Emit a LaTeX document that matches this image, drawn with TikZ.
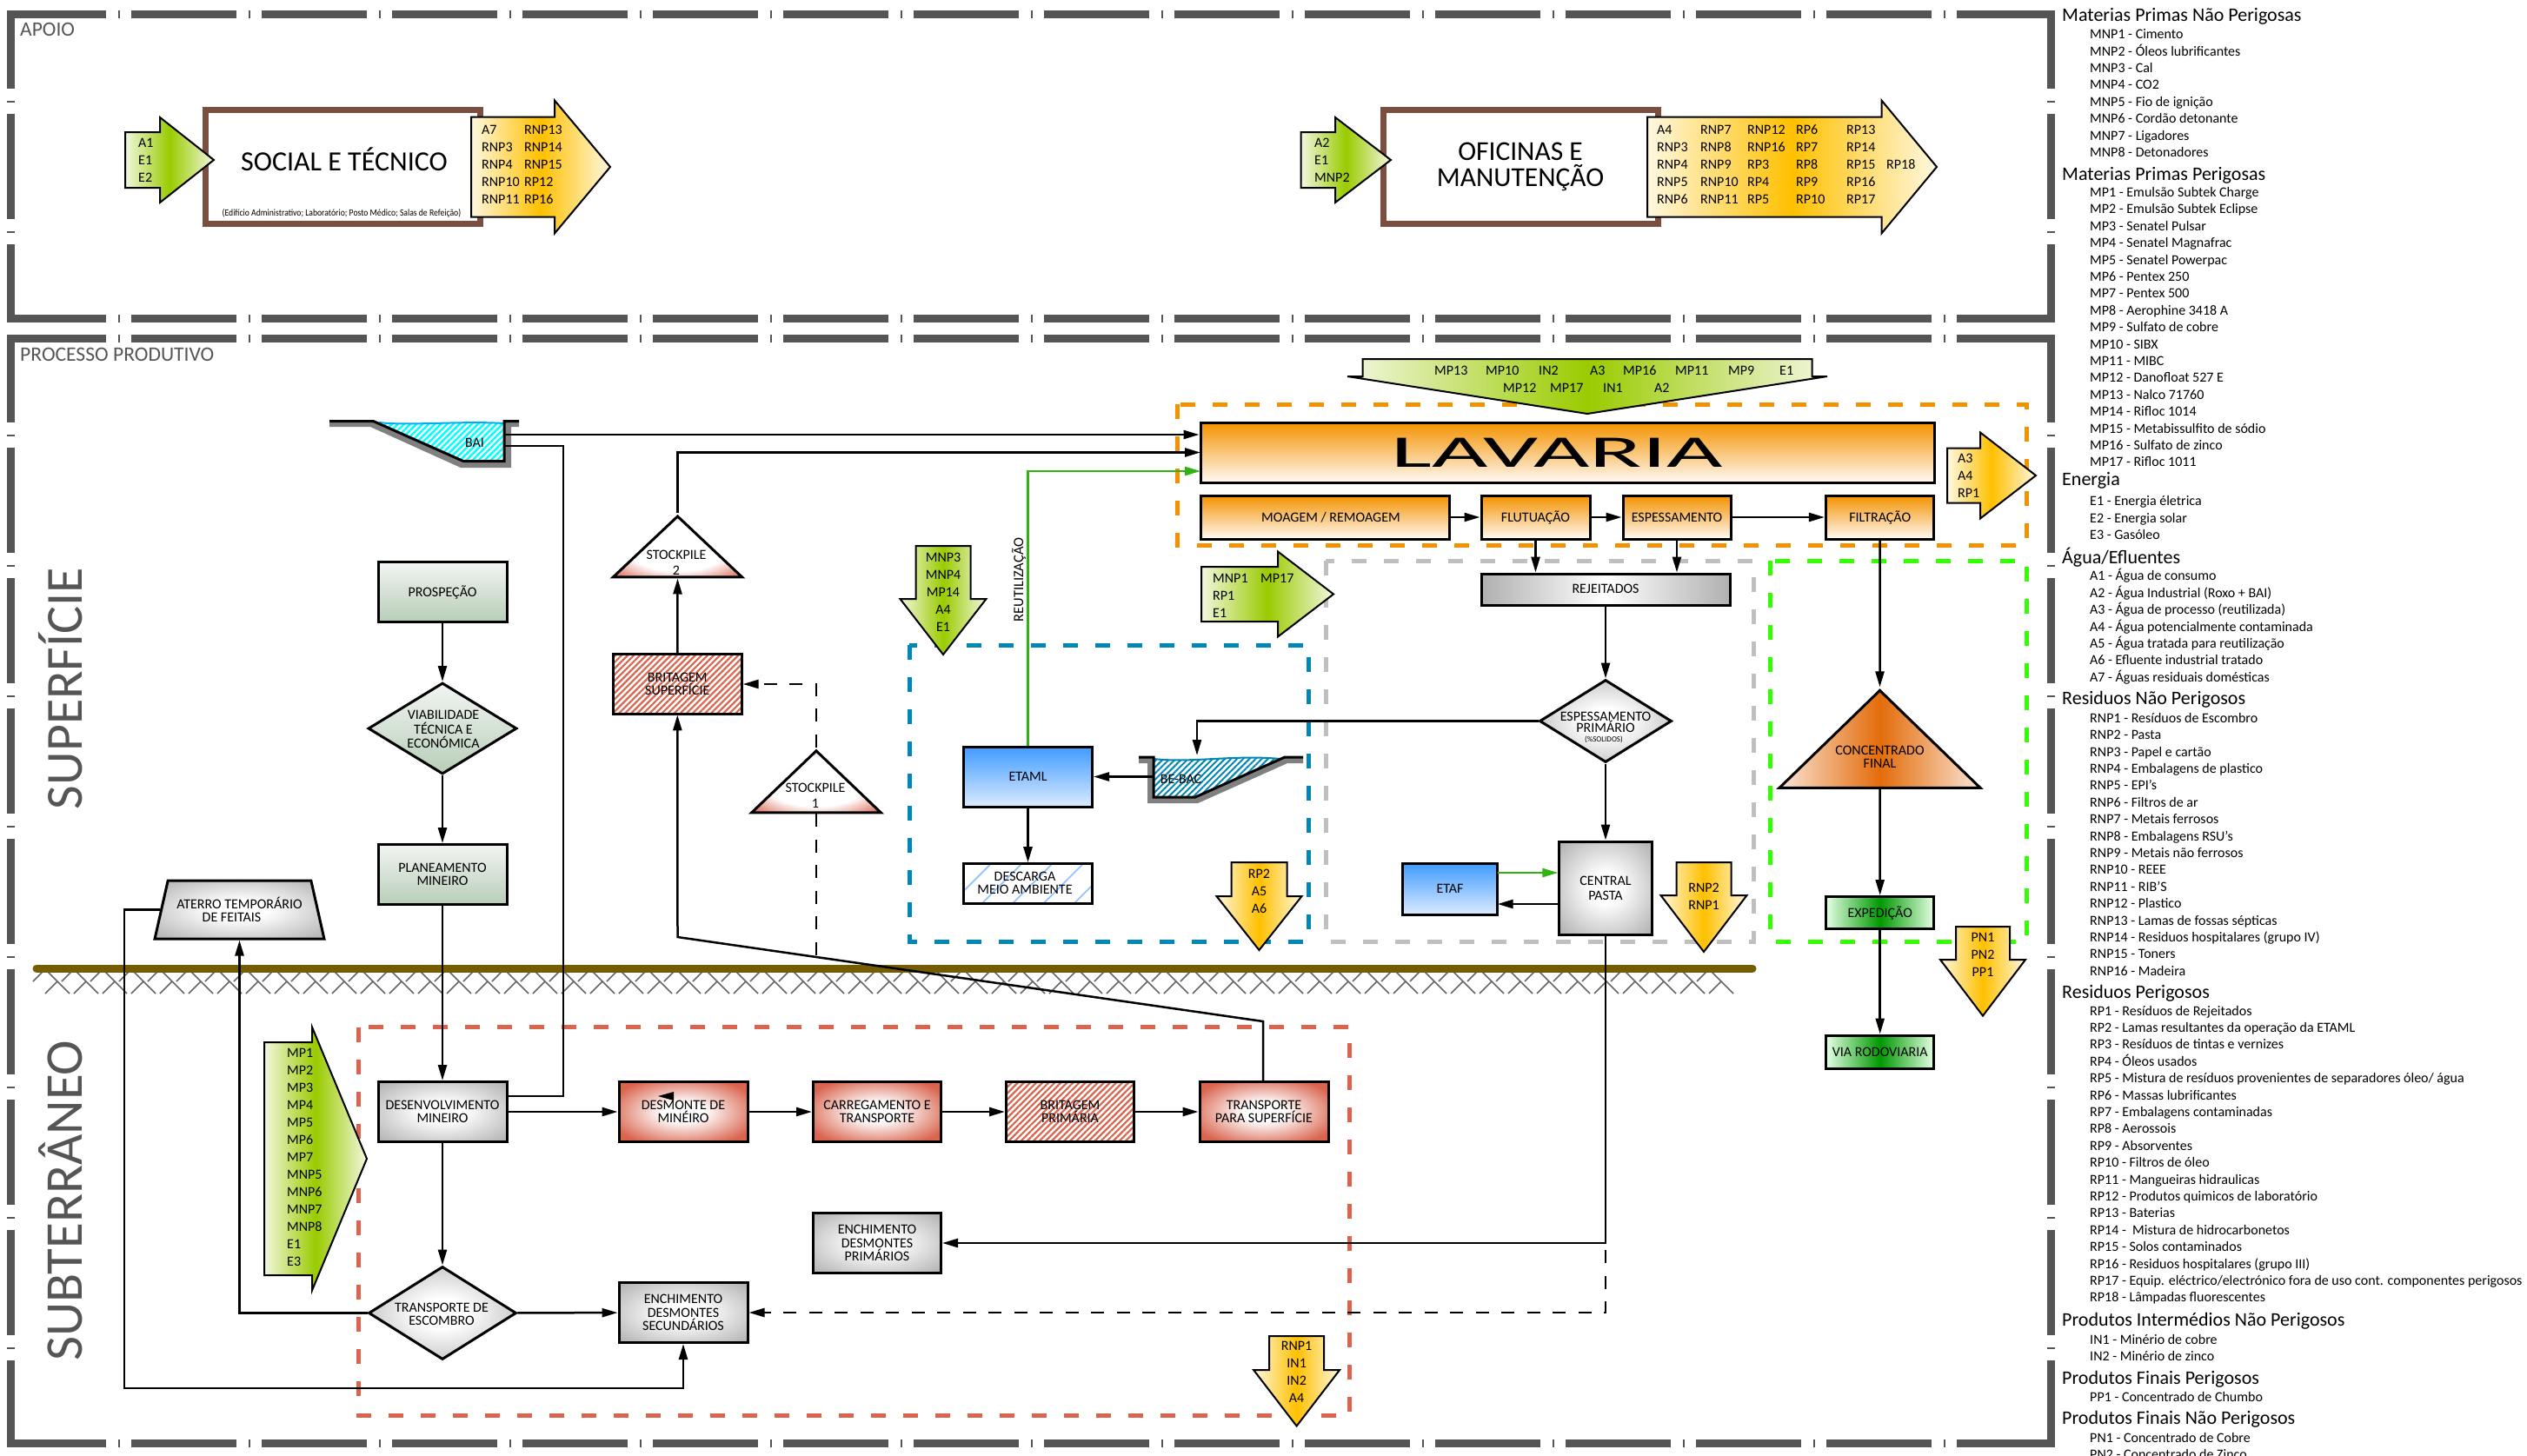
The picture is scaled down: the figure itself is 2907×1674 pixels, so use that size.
\documentclass[tikz,border=0pt]{standalone}
\usepackage{fontspec}
\usepackage{graphicx}
\setmainfont{Carlito}
\usetikzlibrary{arrows.meta,shapes.geometric,patterns.meta}

\definecolor{framegray}{HTML}{555555}
\definecolor{brownbox}{HTML}{7B4F3F}
\definecolor{gmid}{HTML}{9ACB00}
\definecolor{gfade}{HTML}{F2F7DF}
\definecolor{omid}{HTML}{FFC000}
\definecolor{ofade}{HTML}{FFF8E0}
\definecolor{lavorange}{HTML}{F39200}
\definecolor{zoneblue}{HTML}{0087B5}
\definecolor{zonegray}{HTML}{BFBFBF}
\definecolor{zonegreen}{HTML}{33FF00}
\definecolor{zonered}{HTML}{D9654F}
\definecolor{reuse}{HTML}{2FB310}
\definecolor{groundbrown}{HTML}{755C00}
\definecolor{shadegray}{HTML}{B0B0B0}
\definecolor{bluetop}{HTML}{3F9BFF}
\definecolor{bluebot}{HTML}{DCEBFF}
\definecolor{concmid}{HTML}{E36C0A}
\definecolor{concfade}{HTML}{FBE5D6}

\pgfdeclareradialshading{softgray}{\pgfpointorigin}{color(0bp)=(white); color(8bp)=(white); color(35bp)=(shadegray); color(50bp)=(shadegray)}
\pgfdeclareradialshading{softred}{\pgfpointorigin}{color(0bp)=(white); color(8bp)=(white); color(30bp)=(zonered); color(50bp)=(zonered)}
\pgfdeclareradialshading{peakred}{\pgfpointorigin}{color(0bp)=(white); color(20bp)=(white); color(35bp)=(zonered); color(50bp)=(zonered)}

\tikzset{
  framedash/.style={line width=9pt,draw=framegray,dash pattern=on 121pt off 14pt on 2pt off 13pt},
  zone/.style={line width=5pt,dash pattern=on 17pt off 20pt},
  garrow/.style={draw=black,line width=2pt,left color=gfade,right color=gfade,middle color=gmid},
  oarrow/.style={draw=black,line width=2pt,left color=ofade,right color=ofade,middle color=omid},
  alabel/.style={inner sep=0pt,align=left,anchor=west,font=\fontsize{16}{20}\selectfont},
  clabel/.style={inner sep=0pt,align=center,font=\fontsize{16}{20}\selectfont},
  blabel/.style={inner sep=0pt,align=center,font=\fontsize{16}{15}\selectfont},
  legendhead/.style={inner sep=0pt,anchor=west,yshift=-1.5pt,font=\fontsize{22}{22}\selectfont},
  legendbody/.style={inner sep=0pt,anchor=west,align=left,yshift=-0.7pt,font=\fontsize{16}{19.4}\selectfont},
  box/.style={draw=black,line width=3pt,inner sep=0pt,align=center,font=\fontsize{16}{15.5}\selectfont},
  bigbox/.style={draw=brownbox,line width=7pt,fill=white,inner sep=0pt,align=center,font=\fontsize{31.5}{30}\selectfont},
  lavbox/.style={box,top color=lavorange,bottom color=orange!4},
  planbox/.style={box,top color=green!20!black!5,bottom color=green!30!black!28},
  graybox/.style={box,shade,shading=softgray},
  redbox/.style={box,shade,shading=softred},
  hatchred/.style={box,preaction={fill=white},pattern={Lines[angle=45,distance=5pt,line width=2.2pt]},pattern color=zonered},
  bluebox/.style={box,top color=bluetop,bottom color=bluebot},
  peak/.style={draw=black,line width=3pt,inner sep=0pt,isosceles triangle,isosceles triangle stretches,shape border rotate=90},
  choice/.style={draw=black,line width=3pt,inner sep=0pt,diamond},
  line/.style={draw=black,line width=2.5pt},
  flow/.style={line,-{Triangle[length=18pt,width=10pt]}},
  dashflow/.style={flow,dash pattern=on 15pt off 14.5pt},
  reuseflow/.style={line width=2.5pt,draw=reuse,-{Triangle[length=18pt,width=10pt,fill=reuse]}},
  earth/.style={draw=black!60,line width=1.5pt},
  soil/.style={fill=black!50,draw=none},
  pond/.style={line width=3pt,draw=black}
}

% block arrows: style, start, neck, tip, middle, half shaft, half head
\newcommand{\arrowright}[7]{\draw[#1] (#2,-#5+#6) -- (#3,-#5+#6) -- (#3,-#5+#7) -- (#4,-#5) -- (#3,-#5-#7) -- (#3,-#5-#6) -- (#2,-#5-#6) -- cycle;}
\newcommand{\arrowdown}[7]{\draw[#1] (#2-#3,-#5) -- (#2+#3,-#5) -- (#2+#3,-#6) -- (#2+#4,-#6) -- (#2,-#7) -- (#2-#4,-#6) -- (#2-#3,-#6) -- cycle;}

\begin{document}
\begin{tikzpicture}[x=1pt,y=1pt]
	\useasboundingbox (0,0) rectangle (2907,-1674);
	% outer frames
	\draw[framedash,dash phase=11pt] (12,-16.5) -- (2363,-16.5);
	\draw[framedash,dash phase=11pt] (12,-366.5) -- (2363,-366.5);
	\draw[framedash,dash phase=31pt] (12.5,-12) -- (12.5,-371);
	\draw[framedash,dash phase=31pt] (2359,-12) -- (2359,-371);
	\draw[framedash,dash phase=11pt] (12,-389.5) -- (2363,-389.5);
	\draw[framedash,dash phase=11pt] (12,-1660.5) -- (2363,-1660.5);
	\draw[framedash,dash phase=20pt] (12.5,-385) -- (12.5,-1665);
	\draw[framedash,dash phase=20pt] (2359,-385) -- (2359,-1665);
	\node[inner sep=0pt,anchor=west,text=framegray,font=\fontsize{23.5}{24}\selectfont] (apoio) at (23,-34) {APOIO};
	\node[inner sep=0pt,anchor=west,text=framegray,font=\fontsize{23.6}{24}\selectfont] (processo) at (23,-408) {PROCESSO PRODUTIVO};
	\node[inner sep=0pt,rotate=90,text=framegray,font=\fontsize{60}{60}\selectfont] (superficie) at (70,-792) {SUPERFÍCIE};
	\node[inner sep=0pt,rotate=90,text=framegray,font=\fontsize{61}{61}\selectfont] (subterraneo) at (70,-1381) {SUBTERRÂNEO};

	% dashed zones
	\draw[zone,draw=lavorange] (1354,-465) rectangle (2331,-627);
	\draw[zone,draw=zoneblue] (1046,-742) rectangle (1505,-1083);
	\draw[zone,draw=zonegray] (1525,-645) rectangle (2017,-1083);
	\draw[zone,draw=zonegreen] (2036.5,-645) rectangle (2331,-1083);
	\draw[zone,draw=zonered] (412,-1181.5) rectangle (1552.5,-1628);

	% ground
	\foreach \x in {52,85,...,1987} {
		\draw[earth] (\x,-1115) -- ++(28,-28);
		\draw[earth] (\x,-1115) -- ++(-14,-14);
		\draw[earth] (\x+14,-1129) -- ++(-14,-14);
	}
	\draw[line width=9pt,draw=groundbrown,line cap=round] (42,-1114) -- (2016,-1114);

	% apoio
	\node[bigbox,minimum width=316,minimum height=131] (social) at (394.5,-191.5) {};
	\node[inner sep=0pt,font=\fontsize{32}{30}\selectfont] (socialt) at (396,-183.5) {SOCIAL E TÉCNICO};
	\node[inner sep=0pt,font=\fontsize{11}{11}\selectfont] (socialsub) at (393,-245) {\scalebox{.88}[1]{(Edifício Administrativo; Laboratório; Posto Médico; Salas de Refeição)}};
	\node[bigbox,minimum width=316,minimum height=131] (oficinas) at (1749,-191.5) {OFICINAS E\\MANUTENÇÃO};
	\arrowright{garrow}{144}{184}{246}{184}{32}{49}
	\node[alabel] (a1t) at (159,-184) {A1\\E1\\E2};
	\arrowright{oarrow}{542}{638}{702}{192}{57.5}{76.5}
	\node[alabel] (a7a) at (554,-189) {A7\\RNP3\\RNP4\\RNP10\\RNP11};
	\node[alabel] (a7b) at (603,-189) {RNP13\\RNP14\\RNP15\\RP12\\RP16};
	\arrowright{garrow}{1496.5}{1536}{1600}{184}{32}{49}
	\node[alabel] (a2t) at (1512,-184) {A2\\E1\\MNP2};
	\arrowright{oarrow}{1895}{2164.5}{2228}{192}{57.5}{76.5}
	\node[alabel] (ofa) at (1906,-189) {A4\\RNP3\\RNP4\\RNP5\\RNP6};
	\node[alabel] (ofb) at (1956,-189) {RNP7\\RNP8\\RNP9\\RNP10\\RNP11};
	\node[alabel] (ofc) at (2010,-189) {RNP12\\RNP16\\RP3\\RP4\\RP5};
	\node[alabel] (ofd) at (2066,-189) {RP6\\RP7\\RP8\\RP9\\RP10};
	\node[alabel] (ofe) at (2124,-189) {RP13\\RP14\\RP15\\RP16\\RP17};
	\node[alabel] (off) at (2170,-189) {RP18};

	% lavaria
	\arrowdown{garrow}{1826}{258.5}{276}{413}{433}{476}
	\node[alabel] (tm1) at (1650,-426) {MP13};
	\node[alabel] (tm2) at (1709,-426) {MP10};
	\node[alabel] (tm3) at (1770,-426) {IN2};
	\node[alabel] (tm4) at (1829,-426) {A3};
	\node[alabel] (tm5) at (1867,-426) {MP16};
	\node[alabel] (tm6) at (1927,-426) {MP11};
	\node[alabel] (tm7) at (1988,-426) {MP9};
	\node[alabel] (tm8) at (2047,-426) {E1};
	\node[alabel] (tm9) at (1729,-446) {MP12};
	\node[alabel] (tm10) at (1783,-446) {MP17};
	\node[alabel] (tm11) at (1844,-446) {IN1};
	\node[alabel] (tm12) at (1903,-446) {A2};
	\node[lavbox,minimum width=844,minimum height=69] (lavaria) at (1803,-520.5) {\hspace*{-24pt}\fontsize{52}{52}\selectfont\scalebox{2.14}[1]{LAVARIA}};
	\node[lavbox,minimum width=286,minimum height=50] (moagem) at (1524,-595) {\hspace*{14pt}MOAGEM / REMOAGEM};
	\node[lavbox,minimum width=125,minimum height=50] (flut) at (1766.5,-595) {FLUTUAÇÃO};
	\node[lavbox,minimum width=124,minimum height=50] (espess) at (1929,-595) {ESPESSAMENTO};
	\node[lavbox,minimum width=124.5,minimum height=50] (filt) at (2162.7,-595) {FILTRAÇÃO};
	\arrowright{oarrow}{2240}{2278}{2342}{547}{31.5}{49.5}
	\node[alabel] (a3t) at (2252,-547) {A3\\A4\\RP1};

	% etaml
	\arrowdown{garrow}{1085}{31.5}{49.5}{628}{689}{753}
	\node[clabel] (mnp3t) at (1085,-681) {MNP3\\MNP4\\MP14\\A4\\E1};
	\arrowright{garrow}{1382}{1470}{1534}{683.5}{31.5}{49}
	\node[alabel] (mnp1a) at (1395,-685) {MNP1\\RP1\\E1};
	\node[alabel] (mnp1b) at (1450,-665) {MP17};
	\arrowdown{oarrow}{1448.5}{32}{49}{992}{1031}{1093}
	\node[clabel] (rp2t) at (1448.5,-1025) {RP2\\A5\\A6};
	\node[bluebox,minimum width=148,minimum height=69] (etaml) at (1182.5,-893.5) {ETAML};
	\node[box,preaction={fill=white},pattern={Lines[angle=45,distance=25pt,line width=1.6pt]},pattern color=cyan!45!blue!45,minimum width=148,minimum height=46] (descarga) at (1182.5,-1016) {};
	\node[blabel] (descargat) at (1179,-1016) {DESCARGA\\MEIO AMBIENTE};
	\fill[soil] (1310,-871) -- (1327,-871) -- (1327,-917) -- (1375,-917) -- (1478,-871) -- (1499,-871) -- (1499,-878) -- (1481,-878) -- (1378,-924) -- (1320,-924) -- (1320,-878) -- (1310,-878) -- cycle;
	\fill[pattern={Lines[angle=45,distance=5pt,line width=2pt]},pattern color=zoneblue] (1327,-873) .. controls (1370,-878) and (1420,-868) .. (1473,-873) -- (1375,-917) -- (1327,-917) -- cycle;
	\draw[line width=2pt,draw=zoneblue] (1327,-873) .. controls (1370,-878) and (1420,-868) .. (1473,-873);
	\draw[pond] (1310,-871) -- (1327,-871) -- (1327,-917) -- (1375,-917) -- (1478,-871) -- (1499,-871);
	\node[blabel] (bebac) at (1358.5,-896) {BE-BAC};
	\coordinate (bebacin) at (1377,-869);
	\coordinate (bebacout) at (1327,-893.5);

	% rejeitados
	\node[box,left color=shadegray,right color=shadegray,middle color=white,minimum width=286,minimum height=36] (rej) at (1847,-678) {\raisebox{1pt}{REJEITADOS}};
	\node[choice,shade,shading=softgray,minimum width=152,minimum height=95] (esp) at (1847,-829.5) {};
	\node[blabel,font=\fontsize{16}{13.5}\selectfont] (espt) at (1847,-831) {ESPESSAMENTO\\PRIMÁRIO};
	\node[inner sep=0pt,font=\fontsize{9}{9}\selectfont] (espsub) at (1845,-851) {(\%SOLIDOS)};
	\node[graybox,minimum width=106.5,minimum height=107] (central) at (1847,-1021.5) {CENTRAL\\[1.5pt]PASTA};
	\node[bluebox,minimum width=108.5,minimum height=59] (etaf) at (1668,-1022.5) {ETAF};
	\arrowdown{oarrow}{1960}{31.5}{49.5}{992}{1030}{1095}
	\node[clabel] (rnp2t) at (1960,-1031.5) {RNP2\\RNP1};

	% concentrado
	\node[peak,left color=concfade,right color=concfade,middle color=concmid,minimum width=231,minimum height=112] (conc) at (2162.5,-859.5) {};
	\node[blabel] (conct) at (2162.5,-871) {CONCENTRADO\\FINAL};
	\node[box,left color=green!10,right color=green!10,middle color=green!60!black,minimum width=124.5,minimum height=37] (exped) at (2162.7,-1050) {EXPEDIÇÃO};
	\node[box,left color=green!10,right color=green!10,middle color=green!60!black,minimum width=124.5,minimum height=38] (via) at (2162.7,-1210) {VIA RODOVIARIA};
	\arrowdown{oarrow}{2281}{31}{49}{1066}{1104}{1168.6}
	\node[clabel] (pnt) at (2281,-1098.5) {PN1\\PN2\\PP1};

	% bai
	\fill[soil] (379,-484.5) -- (429.5,-484.5) -- (533,-530.5) -- (580,-530.5) -- (580,-484.5) -- (597,-484.5) -- (597,-491) -- (588,-491) -- (588,-538) -- (530,-538) -- (426,-491) -- (379,-491) -- cycle;
	\fill[pattern={Lines[angle=45,distance=5pt,line width=2.4pt]},pattern color=cyan] (436,-486) .. controls (470,-490) and (530,-484) .. (580,-487) -- (580,-530.5) -- (533,-530.5) -- cycle;
	\draw[line width=2pt,draw=cyan] (436,-486) .. controls (470,-490) and (530,-484) .. (580,-487);
	\draw[pond] (379,-484.5) -- (429.5,-484.5) -- (533,-530.5) -- (580,-530.5) -- (580,-484.5) -- (597,-484.5);
	\node[blabel] (bai) at (546,-509) {BAI};
	\coordinate (baiout) at (580,-500);
	\coordinate (bairet) at (580,-513);
	\coordinate (desout) at (648,-1261);

	% planeamento
	\node[planbox,minimum width=148,minimum height=69] (prosp) at (509,-681) {PROSPEÇÃO};
	\node[choice,top color=green!20!black!5,bottom color=green!30!black!28,minimum width=171,minimum height=105] (viab) at (509,-838) {};
	\node[blabel,font=\fontsize{16}{16.5}\selectfont] (viabt) at (510,-839) {VIABILIDADE\\TÉCNICA E\\ECONÓMICA};
	\node[planbox,minimum width=148,minimum height=69] (plan) at (509,-1006) {PLANEAMENTO\\MINEIRO};
	\node[peak,shade,shading=peakred,minimum width=148.5,minimum height=70] (stk2) at (779.5,-634.5) {};
	\node[blabel,font=\fontsize{16}{18}\selectfont] (stk2t) at (778,-647) {STOCKPILE\\2};
	\node[hatchred,minimum width=148.5,minimum height=68.5] (brit) at (779.3,-787) {BRITAGEM\\SUPERFÍCIE};
	\node[peak,shade,shading=peakred,minimum width=148.5,minimum height=71] (stk1) at (939,-905) {};
	\node[blabel,font=\fontsize{16}{18}\selectfont] (stk1t) at (938,-915) {STOCKPILE\\1};
	\node[trapezium,draw=black,line width=3pt,inner sep=0pt,trapezium stretches=true,trapezium left angle=65,trapezium right angle=65,shade,shading=softgray,minimum width=195,minimum height=67,align=center,font=\fontsize{16}{15}\selectfont] (aterro) at (275.5,-1046.5) {ATERRO TEMPORÁRIO\\DE FEITAIS\hspace*{18pt}};
	\coordinate (stkdown) at (939,-1100);
	\coordinate (aterroret) at (143,-1597);

	% subterraneo
	\arrowright{garrow}{304}{359}{422}{1333}{134}{151.5}
	\node[alabel] (mpt) at (330,-1331) {MP1\\MP2\\MP3\\MP4\\MP5\\MP6\\MP7\\MNP5\\MNP6\\MNP7\\MNP8\\E1\\E3};
	\node[graybox,minimum width=148,minimum height=69] (desenv) at (509,-1279) {DESENVOLVIMENTO\\MINEIRO};
	\node[redbox,minimum width=148,minimum height=69] (desmonte) at (786,-1279) {DESMONTE DE\\MINÉIRO};
	\node[redbox,minimum width=147,minimum height=69] (carreg) at (1009,-1279) {CARREGAMENTO E\\TRANSPORTE};
	\node[hatchred,minimum width=147,minimum height=69] (britpri) at (1231,-1279) {BRITAGEM\\PRIMÁRIA};
	\node[redbox,minimum width=148,minimum height=69] (tsup) at (1454,-1279) {TRANSPORTE\\PARA SUPERFÍCIE};
	\node[choice,shade,shading=softgray,minimum width=170,minimum height=107] (tesc) at (509,-1510.5) {};
	\node[blabel] (tesct) at (508,-1512) {TRANSPORTE DE\\ESCOMBRO};
	\node[graybox,minimum width=148,minimum height=69] (enchsec) at (786,-1510) {ENCHIMENTO\\DESMONTES\\SECUNDÁRIOS};
	\node[graybox,minimum width=147,minimum height=69] (enchpri) at (1009,-1430) {ENCHIMENTO\\DESMONTES\\PRIMÁRIOS};
	\arrowdown{oarrow}{1491.6}{31.5}{49.5}{1537}{1576}{1640.5}
	\node[clabel] (rnp1t) at (1491.6,-1578) {RNP1\\IN1\\IN2\\A4};
	\fill[black] (757,-1261) -- (775,-1256) -- (775,-1266) -- cycle;

	% connectors
	\coordinate (lavstk) at (1381,-520.5);
	\coordinate (lavreuse) at (1381,-542);
	\draw[flow] (baiout) -- (baiout -| lavaria.west);
	\draw[flow] (stk2.apex) |- (lavstk);
	\draw[reuseflow] (etaml.north) |- (lavreuse);
	\node[inner sep=0pt,rotate=90,font=\fontsize{16.5}{16.5}\selectfont] (reutil) at (1172,-667) {REUTILIZAÇÃO};
	\draw[line] (bairet) -| (desout) -- (desout -| desenv.east);
	\draw[flow] (moagem) -- (flut);
	\draw[flow] (flut) -- (espess);
	\draw[flow] (espess) -- (filt);
	\draw[flow] (flut.south) -- (flut.south |- rej.north);
	\draw[flow] (espess.south) -- (espess.south |- rej.north);
	\draw[flow] (rej) -- (esp);
	\draw[flow] (esp) -- (central);
	\draw[flow] (esp) -| (bebacin);
	\draw[flow] (bebacout) -- (etaml);
	\draw[flow] (etaml) -- (descarga);
	\coordinate (etafgo) at (1722.7,-1004);
	\coordinate (etafback) at (1722.7,-1040);
	\draw[reuseflow] (etafgo) -- (etafgo -| central.west);
	\draw[flow] (etafback -| central.west) -- (etafback);
	\draw[flow] (filt.south) -- (conc.apex);
	\draw[flow] (conc.lower side) -- (exped.north);
	\draw[flow] (exped) -- (via);
	\draw[flow] (prosp) -- (viab);
	\draw[flow] (viab) -- (plan);
	\draw[flow] (plan) -- (desenv);
	\draw[flow] (desenv) -- (desmonte);
	\draw[flow] (desmonte) -- (carreg);
	\draw[flow] (carreg) -- (britpri);
	\draw[flow] (britpri) -- (tsup);
	\draw[flow] (desenv) -- (tesc);
	\draw[flow] (tesc) -- (enchsec);
	\draw[flow] (tesc.west) -| (aterro.bottom side);
	\draw[flow] (aterro.left side) -| (aterroret) -| (enchsec.south);
	\draw[flow] (brit) -- (stk2.lower side);
	\coordinate (slopea) at (1453,-1175);
	\coordinate (slopeb) at (779.5,-1078);
	\draw[flow] (tsup.north -| slopea) -- (slopea) -- (slopeb) -- (brit.south);
	\draw[dashflow] (stk1.apex) |- (brit.east);
	\draw[line,dash pattern=on 15pt off 14.5pt] (stk1.lower side) -- (stkdown);
	\draw[flow] (central.south) |- (enchpri.east);
	\coordinate (dashtop) at (1847,-1438);
	\draw[dashflow] (dashtop) |- (enchsec.east);

	% legend
	\node[legendhead] (h1) at (2372,-17) {Materias Primas Não Perigosas};
	\node[legendbody] (l1) at (2404,-106.5) {MNP1 - Cimento\\MNP2 - Óleos lubrificantes\\MNP3 - Cal\\MNP4 - CO2\\MNP5 - Fio de ignição\\MNP6 - Cordão detonante\\MNP7 - Ligadores\\MNP8 - Detonadores};
	\node[legendhead] (h2) at (2372,-200) {Materias Primas Perigosas};
	\node[legendbody] (l2) at (2404,-375.5) {MP1 - Emulsão Subtek Charge\\MP2 - Emulsão Subtek Eclipse\\MP3 - Senatel Pulsar\\MP4 - Senatel Magnafrac\\MP5 - Senatel Powerpac\\MP6 - Pentex 250\\MP7 - Pentex 500\\MP8 - Aerophine 3418 A\\MP9 - Sulfato de cobre\\MP10 - SIBX\\MP11 - MIBC\\MP12 - Danofloat 527 E\\MP13 - Nalco 71760\\MP14 - Rifloc 1014\\MP15 - Metabissulfito de sódio\\MP16 - Sulfato de zinco\\MP17 - Rifloc 1011};
	\node[legendhead] (h3) at (2372,-551) {Energia};
	\node[legendbody] (l3) at (2404,-595) {E1 - Energia életrica\\E2 - Energia solar\\E3 - Gasóleo};
	\node[legendhead] (h4) at (2372,-640) {Água/Efluentes};
	\node[legendbody] (l4) at (2404,-720) {A1 - Água de consumo\\A2 - Água Industrial (Roxo + BAI)\\A3 - Água de processo (reutilizada)\\A4 - Água potencialmente contaminada\\A5 - Água tratada para reutilização\\A6 - Efluente industrial tratado\\A7 - Águas residuais domésticas};
	\node[legendhead] (h5) at (2372,-803) {Residuos Não Perigosos};
	\node[legendbody] (l5) at (2404,-970.5) {RNP1 - Resíduos de Escombro\\RNP2 - Pasta\\RNP3 - Papel e cartão\\RNP4 - Embalagens de plastico\\RNP5 - EPI's\\RNP6 - Filtros de ar\\RNP7 - Metais ferrosos\\RNP8 - Embalagens RSU's\\RNP9 - Metais não ferrosos\\RNP10 - REEE\\RNP11 - RIB'S\\RNP12 - Plastico\\RNP13 - Lamas de fossas sépticas\\RNP14 - Residuos hospitalares (grupo IV)\\RNP15 - Toners\\RNP16 - Madeira};
	\node[legendhead] (h6) at (2372,-1141) {Residuos Perigosos};
	\node[legendbody] (l6) at (2404,-1328) {RP1 - Resíduos de Rejeitados\\RP2 - Lamas resultantes da operação da ETAML\\RP3 - Resíduos de tintas e vernizes\\RP4 - Óleos usados\\RP5 - Mistura de resíduos provenientes de separadores óleo/ água\\RP6 - Massas lubrificantes\\RP7 - Embalagens contaminadas\\RP8 - Aerossois\\RP9 - Absorventes\\RP10 - Filtros de óleo\\RP11 - Mangueiras hidraulicas\\RP12 - Produtos quimicos de laboratório\\RP13 - Baterias\\RP14 - \ Mistura de hidrocarbonetos\\RP15 - Solos contaminados\\RP16 - Residuos hospitalares (grupo III)\\RP17 - Equip. eléctrico/electrónico fora de uso cont. componentes perigosos\\RP18 - Lâmpadas fluorescentes};
	\node[legendhead] (h7) at (2372,-1518) {Produtos Intermédios Não Perigosos};
	\node[legendbody] (l7) at (2404,-1549.5) {IN1 - Minério de cobre\\IN2 - Minério de zinco};
	\node[legendhead] (h8) at (2372,-1585) {Produtos Finais Perigosos};
	\node[legendbody] (l8) at (2404,-1606) {PP1 - Concentrado de Chumbo};
	\node[legendhead] (h9) at (2372,-1631) {Produtos Finais Não Perigosos};
	\node[legendbody] (l9) at (2404,-1662.5) {PN1 - Concentrado de Cobre\\PN2 - Concentrado de Zinco};
\end{tikzpicture}
\end{document}
